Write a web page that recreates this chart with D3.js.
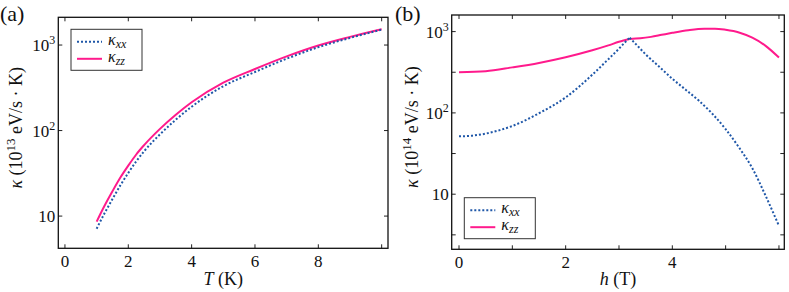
<!DOCTYPE html>
<html>
<head>
<meta charset="utf-8">
<script src="https://cdn.jsdelivr.net/npm/d3@7"></script>
<style>
  body { margin: 0; background: #fff; }
  svg text { font-family: "Liberation Serif", "Times New Roman", "DejaVu Serif", serif; fill: #111; }
</style>
</head>
<body>
<div id="chart"></div>
<script>
// panel (a): kappa vs temperature
const tempT = [1, 1.25, 1.5, 1.75, 2, 2.25, 2.5, 3, 3.5, 4, 5, 6, 7, 8, 9, 10];
const kxxT = [7.1, 10.8, 15.8, 22.9, 32, 43.6, 57.3, 90.2, 134, 190, 330, 484, 692, 944, 1211, 1514];
const kzzT = [8.6, 13.2, 19.5, 28.2, 38.9, 52.5, 67.6, 104.7, 153, 214, 363, 525, 738, 989, 1245, 1531];

// panel (b): kappa vs field (split at the kink near h = 3.2)
const fieldXX = [[0, 0.25, 0.5, 0.75, 1, 1.5, 2, 2.5, 2.8, 3, 3.1, 3.2],
                 [3.2, 3.35, 3.5, 3.75, 4, 4.25, 4.5, 4.75, 5, 5.25, 5.5, 5.75, 6]];
const kxxH = [[51.5, 52.5, 55.6, 61, 69, 99, 155, 295, 457, 617, 724, 841],
              [841, 665, 525, 372, 263, 193, 141, 97.7, 63.1, 37.6, 20.9, 9.55, 4.07]];
const fieldZZ = [[0, 0.5, 1, 1.5, 2, 2.5, 2.8, 3, 3.2],
                 [3.2, 3.4, 3.6, 3.8, 4, 4.3, 4.6, 4.8, 5, 5.25, 5.5, 5.75, 6]];
const kzzH = [[316, 325, 363, 412, 484, 589, 676, 750, 813],
              [813, 828, 861, 912, 966, 1042, 1086, 1086, 1052, 977, 841, 668, 479]];

const xTicksA = [0, 2, 4, 6, 8, 10];
const xLabelsA = [0, 2, 4, 6, 8];
const yTicksA = [10, 100, 1000];
const xTicksB = [0, 1, 2, 3, 4, 5, 6];
const xLabelsB = [0, 2, 4];
const yTicksB = [Math.pow(10, 0.5), 10, Math.pow(10, 1.5), 100, Math.pow(10, 2.5), 1000];
const yLabelsB = [10, 100, 1000];

const width = 789, height = 292;
const blue = "#1f57a8", pink = "#ff1a8c";
const serif = "'Liberation Serif', 'Times New Roman', 'DejaVu Serif', serif";

const svg = d3.select("#chart").append("svg")
    .attr("width", width)
    .attr("height", height)
    .attr("font-family", serif);

function powLabel(sel, v) {
    const e = Math.round(Math.log10(v));
    sel.append("tspan").text("10");
    if (e !== 1) sel.append("tspan").attr("dy", -7).attr("font-size", 12).text(e);
}

function drawPanel(p) {
    const g = svg.append("g");
    const x = d3.scaleLinear().domain(p.xDomain).range([p.left, p.right]);
    const y = d3.scaleLog().domain(p.yDomain).range([p.bottom, p.top]);

    // ticks inward on all four sides
    const tl = 4;
    p.xTicks.forEach(v => {
        g.append("line").attr("x1", x(v)).attr("x2", x(v))
            .attr("y1", p.bottom).attr("y2", p.bottom - tl).attr("stroke", "#222");
        g.append("line").attr("x1", x(v)).attr("x2", x(v))
            .attr("y1", p.top).attr("y2", p.top + tl).attr("stroke", "#222");
    });
    p.yTicks.forEach(v => {
        g.append("line").attr("y1", y(v)).attr("y2", y(v))
            .attr("x1", p.left).attr("x2", p.left + tl).attr("stroke", "#222");
        g.append("line").attr("y1", y(v)).attr("y2", y(v))
            .attr("x1", p.right).attr("x2", p.right - tl).attr("stroke", "#222");
    });

    p.xLabels.forEach(v => {
        g.append("text").attr("x", x(v)).attr("y", p.bottom + 19)
            .attr("text-anchor", "middle").attr("font-size", 17).text(v);
    });
    p.yLabels.forEach(v => {
        const t = g.append("text").attr("x", p.left - 3).attr("y", y(v) + 6)
            .attr("text-anchor", "end").attr("font-size", 17);
        powLabel(t, v);
    });

    const line = d3.line()
        .x(d => x(d[0]))
        .y(d => y(d[1]))
        .curve(d3.curveMonotoneX);
    const pathOf = (xs, ys) => xs.map((seg, k) => line(seg.map((v, i) => [v, ys[k][i]]))).join("");

    g.append("path").attr("d", pathOf(p.zzX, p.zz))
        .attr("fill", "none").attr("stroke", pink).attr("stroke-width", 2);
    g.append("path").attr("d", pathOf(p.xxX, p.xx))
        .attr("fill", "none").attr("stroke", blue).attr("stroke-width", 2)
        .attr("stroke-dasharray", "2,2");

    // frame
    g.append("rect").attr("x", p.left).attr("y", p.top)
        .attr("width", p.right - p.left).attr("height", p.bottom - p.top)
        .attr("fill", "none").attr("stroke", "#111").attr("stroke-width", 1.3);

    // axis titles
    const xt = g.append("text").attr("x", (p.left + p.right) / 2).attr("y", 285)
        .attr("text-anchor", "middle").attr("font-size", 18);
    xt.append("tspan").attr("font-style", "italic").text(p.xVar);
    xt.append("tspan").text(" " + p.xUnit);

    const yt = g.append("text")
        .attr("transform", `translate(${p.yLabelX},${(p.top + p.bottom) / 2 - 5}) rotate(-90)`)
        .attr("text-anchor", "middle").attr("font-size", 18);
    yt.append("tspan").attr("font-style", "italic").text("κ");
    yt.append("tspan").text(" (10");
    yt.append("tspan").attr("dy", -7).attr("font-size", 13).text(p.exp);
    yt.append("tspan").attr("dy", 7).text(" eV/s · K)");

    g.append("text").attr("x", p.tagX).attr("y", 21).attr("font-size", 22).text(p.tag);

    // legend
    const lg = g.append("g").attr("transform", `translate(${p.legX},${p.legY})`);
    lg.append("rect").attr("width", 71).attr("height", 41)
        .attr("fill", "#fff").attr("stroke", "#333").attr("stroke-width", 1);
    [["xx", blue, "2,2", 12.5], ["zz", pink, null, 29.5]].forEach(([s, c, dash, yy]) => {
        const l = lg.append("line").attr("x1", 6).attr("x2", 31)
            .attr("y1", yy).attr("y2", yy).attr("stroke", c).attr("stroke-width", 2);
        if (dash) l.attr("stroke-dasharray", dash);
        const t = lg.append("text").attr("x", 37).attr("y", yy + 3).attr("font-size", 16)
            .attr("font-style", "italic");
        t.append("tspan").text("κ");
        t.append("tspan").attr("dy", 3).attr("font-size", 12).text(s);
    });
}

drawPanel({
    left: 58.3, right: 388, top: 17.3, bottom: 248.3,
    xDomain: [-0.21, 10.2], yDomain: [4.2, 2110],
    xTicks: xTicksA, xLabels: xLabelsA, yTicks: yTicksA, yLabels: yTicksA,
    xxX: [tempT], xx: [kxxT], zzX: [tempT], zz: [kzzT],
    xVar: "T", xUnit: "(K)", exp: "13", yLabelX: 22, tag: "(a)", tagX: 0,
    legX: 71, legY: 29.3
});

drawPanel({
    left: 451.7, right: 784.3, top: 15, bottom: 249.3,
    xDomain: [-0.137, 6.1], yDomain: [2.1, 1600],
    xTicks: xTicksB, xLabels: xLabelsB, yTicks: yTicksB, yLabels: yLabelsB,
    xxX: fieldXX, xx: kxxH, zzX: fieldZZ, zz: kzzH,
    xVar: "h", xUnit: "(T)", exp: "14", yLabelX: 418, tag: "(b)", tagX: 395,
    legX: 464.3, legY: 197.7
});
</script>
</body>
</html>
